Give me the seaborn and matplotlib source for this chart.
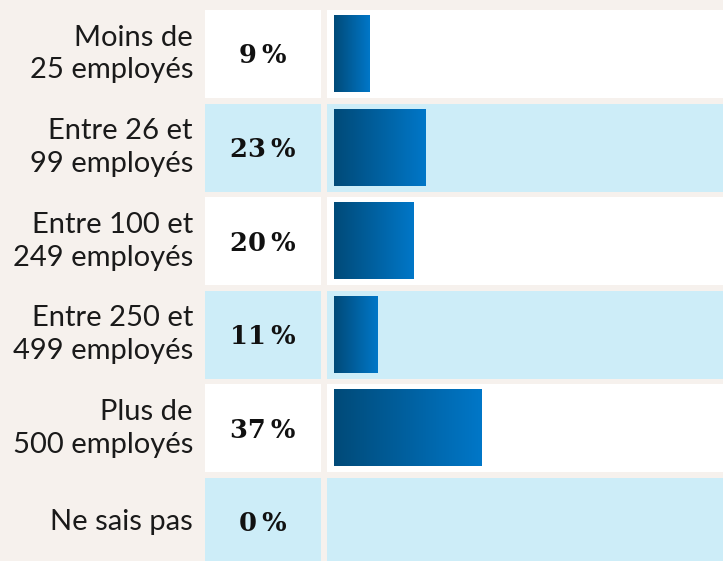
import numpy as np
import pandas as pd
import matplotlib
matplotlib.use("Agg")
import matplotlib.pyplot as plt
from matplotlib.colors import LinearSegmentedColormap
import seaborn as sns

# données
categories = ["Moins de\n25 employés", "Entre 26 et\n99 employés", "Entre 100 et\n249 employés",
              "Entre 250 et\n499 employés", "Plus de\n500 employés", "Ne sais pas"]
values = [9, 23, 20, 11, 37, 0]

bg = "#f6f1ed"
light_blue = "#cdedf8"
row_colors = ["white", light_blue] * 3
grad = LinearSegmentedColormap.from_list("grad", ["#004a78", "#0077c8"])

df = pd.DataFrame({"cat": categories, "val": values})

sns.set_theme(style="white")
plt.rcParams["font.family"] = ["Lato", "DejaVu Sans"]

W, H = 723, 561
fig = plt.figure(figsize=(W / 100, H / 100), dpi=100, facecolor=bg)

pitch = 93.6
top_c = 54
ylim = ((H - top_c) / pitch, -top_c / pitch)

# colonne pourcentages
ax_p = fig.add_axes([205 / W, 0, 116 / W, 1], facecolor=bg)
# colonne barres
ax = fig.add_axes([327 / W, 0, (W - 327) / W, 1], facecolor=bg)

sns.barplot(data=df, x="val", y="cat", orient="h", width=0.812, ax=ax, zorder=2)

# dégradé sur chaque barre
g = np.linspace(0, 1, 256).reshape(1, -1)
for p in list(ax.patches):
    x0, y0 = p.get_x(), p.get_y()
    w, h = p.get_width(), p.get_height()
    p.set_visible(False)
    if w <= 0:
        continue
    ax.imshow(g, cmap=grad, extent=(x0, x0 + w, y0 + h, y0), aspect="auto", zorder=3)

# fonds des lignes
for a in (ax_p, ax):
    for i, c in enumerate(row_colors):
        a.axhspan(i - 0.47, i + 0.47, color=c, lw=0, zorder=0)

ax.set_xlim(-1.75, 97.25)
ax.set_ylim(*ylim)
ax_p.set_xlim(0, 1)
ax_p.set_ylim(*ylim)

for i, v in enumerate(values):
    ax_p.text(0.5, i + 0.02, f"{v}\u2009%", ha="center", va="center", fontsize=18.5,
              fontweight="bold", family=["DejaVu Serif"], color="#111111")
    fig.text(193 / W, 1 - (top_c + pitch * i) / H, categories[i], ha="right", va="center",
             fontsize=21, color="#1a1a1a", linespacing=1.32)

for a in (ax_p, ax):
    a.set_axis_off()

fig.savefig("out.png", dpi=100, facecolor=bg)
